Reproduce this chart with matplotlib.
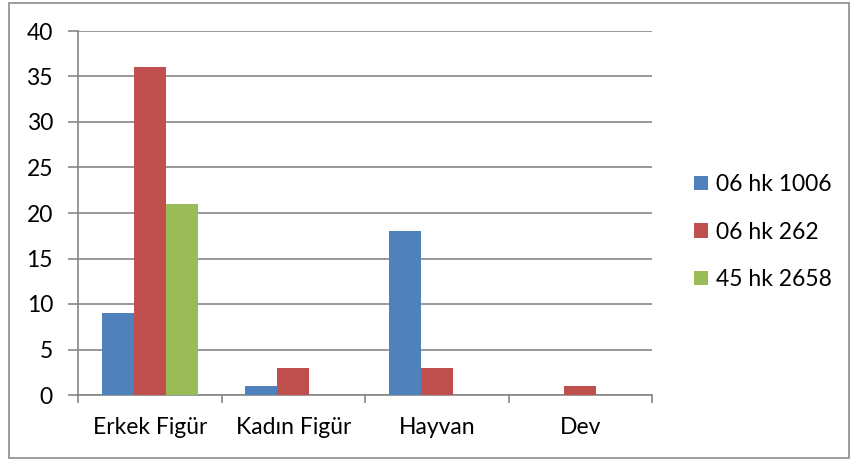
import matplotlib.pyplot as plt
import numpy as np
from matplotlib.patches import Rectangle

plt.rcParams['font.family'] = ['Lato', 'DejaVu Sans']

categories = ['Erkek Figür', 'Kadın Figür', 'Hayvan', 'Dev']
series_names = ['06 hk 1006', '06 hk 262', '45 hk 2658']
s1006 = [9, 1, 18, 0]
s262 = [36, 3, 3, 1]
s2658 = [21, 0, 0, 0]
colors = ['#4F81BD', '#C0504D', '#9BBB59']

W, H = 852, 461
fig = plt.figure(figsize=(W / 100, H / 100), dpi=100)
ax = fig.add_axes([78 / W, 1 - 395 / H, (652 - 78) / W, (395 - 31) / H])

# outer chart border
fig.patches.append(Rectangle((9 / W, 3 / H), (849 - 9) / W, (458 - 3) / H,
                             transform=fig.transFigure, fill=False,
                             edgecolor='#8c8c8c', linewidth=1.2))

x = np.arange(len(categories))
bw = 1 / 4.5
for i, (vals, c) in enumerate(zip([s1006, s262, s2658], colors)):
    ax.bar(x + (i - 1) * bw, vals, width=bw, color=c, label=series_names[i],
           zorder=3)

ax.set_xlim(-0.5, len(categories) - 0.5)
ax.set_ylim(0, 40)
ax.set_yticks(range(0, 41, 5))
ax.set_xticks(x)
ax.set_xticklabels(categories)
ax.set_xticks(np.arange(-0.5, len(categories), 1), minor=True)
ax.tick_params(axis='x', which='major', length=0, pad=16, labelsize=16.5)
ax.tick_params(axis='x', which='minor', length=6, width=1.2, color='#868686')
ax.tick_params(axis='y', length=7, width=1.2, color='#868686', labelsize=16.5, pad=11)
ax.grid(axis='y', color='#868686', linewidth=1.2, zorder=0)
for s in ['top', 'right']:
    ax.spines[s].set_visible(False)
for s in ['left', 'bottom']:
    ax.spines[s].set_color('#868686')
    ax.spines[s].set_linewidth(1.2)

leg = fig.legend(loc='upper left', bbox_to_anchor=(685 / W, 1 - 165 / H),
                 frameon=False, fontsize=16.5, handlelength=0.6, handleheight=0.6,
                 handletextpad=0.35, labelspacing=1.15, borderaxespad=0)

fig.savefig('out.png', dpi=100)
